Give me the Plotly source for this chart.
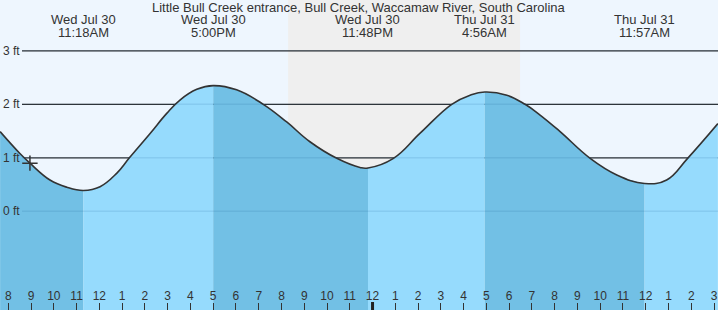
import plotly.graph_objects as go

# ---- data (hours since Wed Jul 30 00:00, tide height in ft) ----
times = [7.64, 8.51, 8.95, 9.83, 10.57, 11.30, 12.03, 12.76, 13.32, 14.22, 14.96, 15.54,
         16.28, 17.00, 18.03, 19.20, 20.23, 21.25, 22.43, 23.45, 23.80, 24.92, 26.09,
         27.48, 28.29, 28.93, 29.90, 30.70, 31.36, 32.24, 33.56, 34.73, 35.95, 36.92,
         37.84, 39.17]
heights = [1.49, 1.08, 0.90, 0.585, 0.45, 0.39, 0.46, 0.71, 1.00, 1.45, 1.83, 2.08,
           2.28, 2.35, 2.27, 2.00, 1.67, 1.30, 0.99, 0.82, 0.81, 0.99, 1.46,
           2.00, 2.17, 2.23, 2.17, 2.00, 1.80, 1.49, 0.99, 0.68, 0.52, 0.585,
           0.99, 1.64]

event_times = [11.30, 17.00, 23.80, 28.93, 35.95]
event_day = ["Wed Jul 30", "Wed Jul 30", "Wed Jul 30", "Thu Jul 31", "Thu Jul 31"]
event_clock = ["11:18AM", "5:00PM", "11:48PM", "4:56AM", "11:57AM"]

sunset, sunrise = 20.29, 30.48
now_time, now_height = 8.95, 0.90

tick_vals = list(range(8, 40))
tick_text = [str((h % 12) or 12) for h in tick_vals]
ft_levels = [0, 1, 2, 3]
ft_labels = ["0 ft", "1 ft", "2 ft", "3 ft"]

title = "Little Bull Creek entrance, Bull Creek, Waccamaw River, South Carolina"

X_RANGE = [7.6354, 39.175]
Y_RANGE = [-1.845, 3.95]
DARK = "#72C0E5"
LIGHT = "#96DBFD"
SMOOTH = 1.2

fig = go.Figure()

# filled segments between tide extremes
bounds = [times[0]] + event_times + [times[-1]]
for i in range(len(bounds) - 1):
    t0, t1 = bounds[i], bounds[i + 1]
    sel = [(t, h) for t, h in zip(times, heights) if t0 - 1e-6 <= t <= t1 + 1e-6]
    xs = [p[0] for p in sel]
    ys = [p[1] for p in sel]
    fig.add_trace(go.Scatter(x=[xs[0], xs[-1]], y=[-5, -5], mode="lines",
                             line=dict(width=0), hoverinfo="skip"))
    fig.add_trace(go.Scatter(x=xs, y=ys, mode="lines", fill="tonexty",
                             fillcolor=DARK if i % 2 == 0 else LIGHT,
                             line=dict(width=0, shape="spline", smoothing=SMOOTH),
                             hoverinfo="skip"))

# tide curve
fig.add_trace(go.Scatter(x=times, y=heights, mode="lines",
                         line=dict(color="#333333", width=1.6, shape="spline",
                                   smoothing=SMOOTH)))
# current time marker
fig.add_trace(go.Scatter(x=[now_time], y=[now_height], mode="markers",
                         marker=dict(symbol="cross-thin", size=11,
                                     line=dict(color="#333333", width=1.5))))

shapes = [
    dict(type="rect", xref="x", yref="paper", x0=sunset, x1=sunrise, y0=0, y1=1,
         fillcolor="#EFEFEF", line=dict(width=0), layer="below"),
]
for lv in ft_levels:
    if lv > 0:
        shapes.append(dict(type="line", xref="paper", yref="y", x0=22 / 718, x1=1,
                           y0=lv, y1=lv, line=dict(color="#333333", width=1.2),
                           layer="below"))
    shapes.append(dict(type="line", xref="paper", yref="y", x0=22 / 718, x1=1,
                       y0=lv, y1=lv, line=dict(color="rgba(0,70,130,0.10)", width=1.5),
                       layer="above"))
shapes.append(dict(type="line", xref="x", yref="paper", x0=24, x1=24,
                   ysizemode="pixel", yanchor=0, y0=0, y1=8,
                   line=dict(color="#222222", width=3)))

annotations = [dict(text=title, x=0.5, xref="paper", y=1 - 8 / 310, yref="paper",
                    showarrow=False, xanchor="center", yanchor="middle",
                    font=dict(size=13, color="#333333"))]
for t, d, c in zip(event_times, event_day, event_clock):
    annotations.append(dict(text=d, x=t, xref="x", y=1 - 20 / 310, yref="paper",
                            showarrow=False, xanchor="center", yanchor="middle",
                            font=dict(size=13, color="#333333")))
    annotations.append(dict(text=c, x=t, xref="x", y=1 - 32 / 310, yref="paper",
                            showarrow=False, xanchor="center", yanchor="middle",
                            font=dict(size=13, color="#333333")))
for lv, lab in zip(ft_levels, ft_labels):
    annotations.append(dict(text=lab, x=0, xref="paper", y=lv, yref="y",
                            xanchor="left", yanchor="middle", xshift=1,
                            showarrow=False, font=dict(size=12, color="#333333")))

fig.update_layout(
    width=718, height=310, margin=dict(l=0, r=0, t=0, b=0),
    plot_bgcolor="#EEF6FE", paper_bgcolor="#EEF6FE", showlegend=False,
    font=dict(family="Liberation Sans, Arial, sans-serif", color="#333333", size=12),
    xaxis=dict(range=X_RANGE, tickvals=tick_vals, ticktext=tick_text,
               ticks="inside", ticklen=7, tickcolor="#333333", tickwidth=1,
               ticklabelposition="inside", showgrid=False, zeroline=False,
               showline=False, tickfont=dict(size=12, color="#333333"), fixedrange=True),
    yaxis=dict(range=Y_RANGE, visible=False, fixedrange=True),
    shapes=shapes, annotations=annotations,
)

fig.write_html("out.html", config={"displayModeBar": False})
